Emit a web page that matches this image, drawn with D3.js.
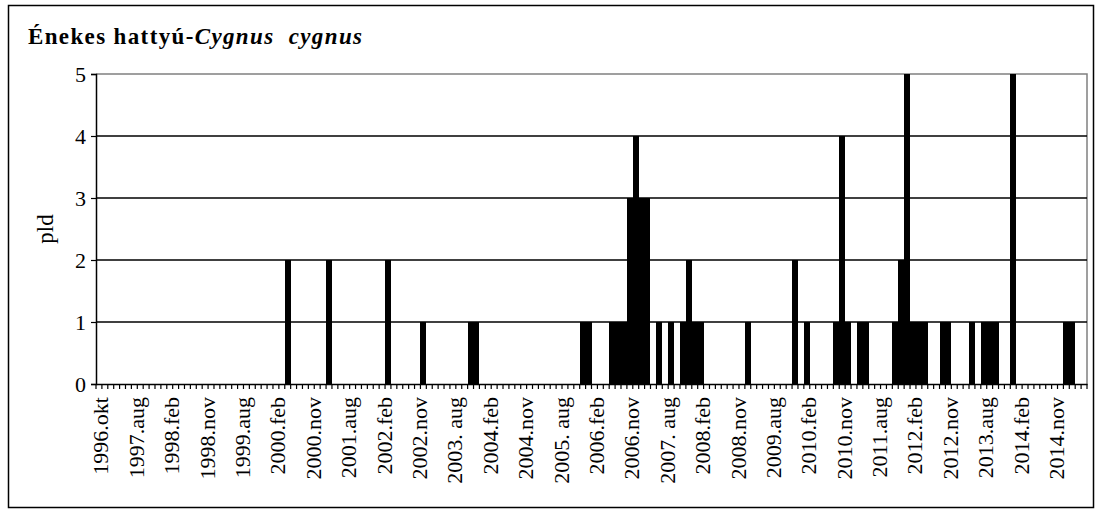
<!DOCTYPE html>
<html>
<head>
<meta charset="utf-8">
<script src="https://cdn.jsdelivr.net/npm/d3@7"></script>
<style>
  html, body { margin: 0; padding: 0; background: #fff; }
  svg { display: block; }
  text { font-family: "Liberation Serif", "Times New Roman", serif; fill: #000; }
</style>
</head>
<body>
<svg id="chart" width="1099" height="512"></svg>
<script>
// ---- data ----
const titleMain = "Énekes hattyú-";
const titleLatin = "Cygnus  cygnus";
const yTitle = "pld";
// survey months per season (aug .. ápr); first season started in okt
const seasonMonths = ["aug", "szep", "okt", "nov", "dec", "jan", "feb", "márc", "ápr"];
const firstSeason = ["okt", "nov", "dec", "jan", "feb", "márc"];
const tickLabels = ["1996.okt", "1997.aug", "1998.feb", "1998.nov", "1999.aug", "2000.feb", "2000.nov",
  "2001.aug", "2002.feb", "2002.nov", "2003. aug", "2004.feb", "2004.nov", "2005. aug", "2006.feb",
  "2006.nov", "2007. aug", "2008.feb", "2008.nov", "2009.aug", "2010.feb", "2010.nov", "2011.aug",
  "2012.feb", "2012.nov", "2013.aug", "2014.feb", "2014.nov"];
const labelStep = 6;
// counts (pld) per survey month, 168 categories
const counts = [
  0,0,0,0,0,0,0,0,0,0,0,0,
  0,0,0,0,0,0,0,0,0,0,0,0,
  0,0,0,0,0,0,0,0,2,0,0,0,
  0,0,0,2,0,0,0,0,0,0,0,0,
  0,2,0,0,0,0,0,1,0,0,0,0,
  0,0,0,1,1,0,0,0,0,0,0,0,
  0,0,0,0,0,0,0,0,0,0,1,1,
  0,0,0,1,1,1,3,4,3,3,0,1,
  0,1,0,1,2,1,1,0,0,0,0,0,
  0,0,1,0,0,0,0,0,0,0,2,0,
  1,0,0,0,0,1,4,1,0,1,1,0,
  0,0,0,1,2,5,1,1,1,0,0,1,
  1,0,0,0,1,0,1,1,1,0,0,5,
  0,0,0,0,0,0,0,0,1,1,0,0
];
const yTicks = [0, 1, 2, 3, 4, 5];

// category names (year.month)
const categories = [];
firstSeason.forEach((m, i) => categories.push((i < 3 ? 1996 : 1997) + "." + m));
for (let yr = 1997; categories.length < counts.length; yr++) {
  seasonMonths.forEach((m, i) => {
    if (categories.length < counts.length) categories.push((i < 5 ? yr : yr + 1) + "." + m);
  });
}
const data = categories.map((c, i) => ({ cat: c, value: counts[i], label: i % labelStep === 0 ? tickLabels[i / labelStep] : "" }));

// ---- layout ----
const svg = d3.select("#chart");
const plot = { left: 96, right: 1087, top: 74, bottom: 384 };

// outer border
svg.append("rect").attr("x", 8.5).attr("y", 5.5).attr("width", 1085).attr("height", 502)
  .attr("fill", "#fff").attr("stroke", "#000").attr("stroke-width", 1.5);

const x = d3.scaleBand().domain(categories).range([plot.left, plot.right]).paddingInner(0).paddingOuter(0);
const y = d3.scaleLinear().domain([0, 5]).range([plot.bottom, plot.top]);

// plot border (gray top/right)
svg.append("path")
  .attr("d", `M${plot.left},${plot.top}H${plot.right}V${plot.bottom}`)
  .attr("fill", "none").attr("stroke", "#808080").attr("stroke-width", 1.5);

// gridlines
svg.append("g").selectAll("line").data(yTicks.filter(t => t > 0 && t < 5)).join("line")
  .attr("x1", plot.left).attr("x2", plot.right)
  .attr("y1", d => y(d)).attr("y2", d => y(d))
  .attr("stroke", "#000").attr("stroke-width", 1.5);

// bars
svg.append("g").attr("shape-rendering", "crispEdges")
  .selectAll("rect").data(data.filter(d => d.value > 0)).join("rect")
  .attr("x", d => x(d.cat)).attr("width", x.bandwidth())
  .attr("y", d => y(d.value)).attr("height", d => y(0) - y(d.value))
  .attr("fill", "#000");

// y axis
const yAxis = svg.append("g").attr("transform", `translate(${plot.left},0)`)
  .call(d3.axisLeft(y).tickValues(yTicks).tickFormat(d3.format("d")).tickSize(5).tickPadding(5));
yAxis.select(".domain").attr("stroke", "#000").attr("stroke-width", 1.5);
yAxis.selectAll(".tick line").attr("stroke", "#000").attr("stroke-width", 1.2);
yAxis.selectAll(".tick text").attr("font-size", 22).attr("font-family", "Liberation Serif");

// x axis
const xAxis = svg.append("g").attr("transform", `translate(0,${plot.bottom})`)
  .call(d3.axisBottom(x).tickSize(0).tickFormat(c => data[categories.indexOf(c)].label));
xAxis.select(".domain").attr("stroke", "#000").attr("stroke-width", 1.5);
xAxis.selectAll(".tick text")
  .attr("font-size", 22).attr("font-family", "Liberation Serif")
  .attr("text-anchor", "end").attr("dy", null)
  .attr("transform", "translate(2,13) rotate(-90)")
  .attr("x", 0).attr("y", 0).attr("dominant-baseline", "central");
// category boundary ticks
svg.append("g").selectAll("line").data(d3.range(categories.length + 1)).join("line")
  .attr("x1", i => plot.left + i * x.bandwidth()).attr("x2", i => plot.left + i * x.bandwidth())
  .attr("y1", plot.bottom).attr("y2", plot.bottom + 5)
  .attr("stroke", "#000").attr("stroke-width", 1.2);

// y title
svg.append("text").attr("transform", `translate(45,${(plot.top + plot.bottom) / 2}) rotate(-90)`)
  .attr("text-anchor", "middle").attr("dominant-baseline", "central").attr("font-size", 23).text(yTitle);

// title
const t = svg.append("text").attr("x", 28).attr("y", 44).attr("font-size", 23).attr("font-weight", "bold")
  .attr("xml:space", "preserve").style("white-space", "pre")
  .attr("textLength", 334).attr("lengthAdjust", "spacing");
t.append("tspan").text(titleMain);
t.append("tspan").attr("font-style", "italic").text(titleLatin);
</script>
</body>
</html>
